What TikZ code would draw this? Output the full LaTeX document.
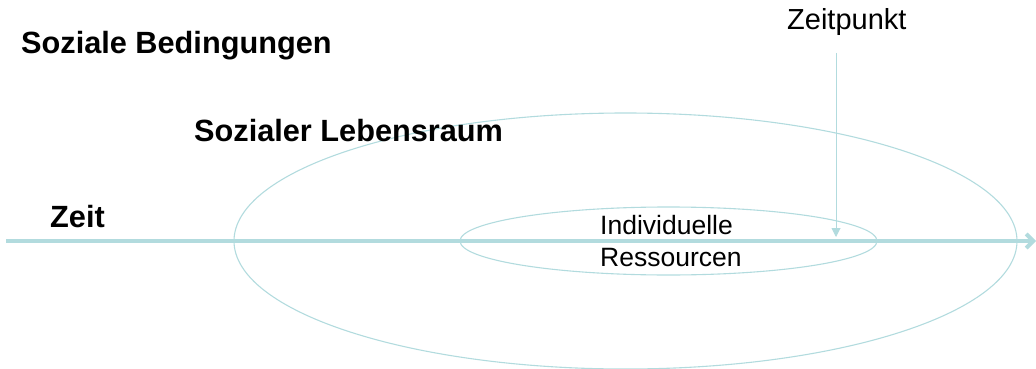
\documentclass[tikz,border=0pt]{standalone}
\usepackage{fontspec}
\setmainfont{Liberation Sans}
\usetikzlibrary{arrows.meta,shapes.geometric}
\definecolor{zeitblau}{RGB}{178,219,222}

\begin{document}
\begin{tikzpicture}
[x=1pt,y=-1pt,
  titelText/.style={anchor=base west,inner sep=0pt,font=\fontsize{30.7}{36}\selectfont\bfseries},
  normalText/.style={anchor=base west,inner sep=0pt,font=\fontsize{29}{34}\selectfont},
  kleinText/.style={anchor=base west,inner sep=0pt,align=left,font=\fontsize{26.5}{32}\selectfont},
  ellipseDecorate/.style={shape=ellipse,draw=zeitblau,line width=1.1pt,inner sep=0pt},
  achseDecorate/.style={draw=zeitblau,line width=4pt,-{Straight Barb[length=7pt,width=14pt]}},
  pfeilDecorate/.style={draw=zeitblau,line width=1pt,-{Triangle[length=9pt,width=9pt]}}]
\useasboundingbox (0,0) rectangle (1036,369);
%% ellipses
\node (lebensraum) at (625.5,241) [ellipseDecorate,minimum width=783pt,minimum height=256pt] {};
\node (ressourcen) at (668.5,241) [ellipseDecorate,minimum width=417pt,minimum height=68pt] {};
%% texts
\node (bedingungen) at (21,54) [titelText] {Soziale Bedingungen};
\node (lebenstext) at (194,141) [titelText] {Sozialer Lebensraum};
\node (zeit) at (50,227) [titelText] {Zeit};
\node (zeitpunkt) at (787,30) [normalText] {Zeitpunkt};
\node (individuell) at (600,266) [kleinText] {Individuelle\\Ressourcen};
%% arrows
\coordinate (achseA) at (6,241);
\coordinate (achseB) at (1036,241);
\coordinate (punktA) at (836,53);
\coordinate (punktB) at (836,237);
\draw[achseDecorate] (achseA) -- (achseB);
\draw[pfeilDecorate] (punktA) -- (punktB);
\end{tikzpicture}
\end{document}
